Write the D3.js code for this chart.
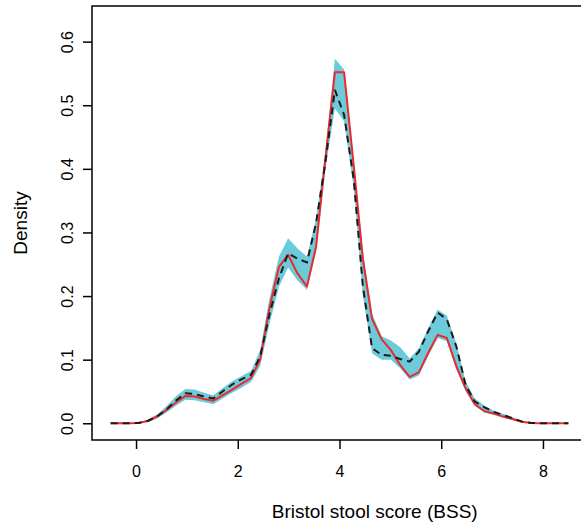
<!DOCTYPE html>
<html>
<head>
<meta charset="utf-8">
<script src="https://cdn.jsdelivr.net/npm/d3@7"></script>
<style>
  body { margin: 0; background: #fff; }
  svg { display: block; font-family: "Liberation Sans", Arial, sans-serif; }
</style>
</head>
<body>
<div id="chart"></div>
<script>
// BSS grid (50 points, -0.5 .. 8.5)
var bss = [-0.5, -0.32, -0.13, 0.05, 0.24, 0.42, 0.6, 0.79, 0.97, 1.15,
  1.34, 1.52, 1.7, 1.89, 2.07, 2.26, 2.44, 2.62, 2.81, 2.99,
  3.17, 3.36, 3.54, 3.72, 3.91, 4.09, 4.28, 4.46, 4.64, 4.83,
  5.01, 5.19, 5.38, 5.56, 5.74, 5.93, 6.11, 6.3, 6.48, 6.66,
  6.85, 7.03, 7.21, 7.4, 7.58, 7.77, 7.95, 8.13, 8.32, 8.5];

// red line
var redDensity = [0, 0, 0, 0.0005, 0.004, 0.011, 0.021, 0.033, 0.043, 0.042,
  0.038, 0.0355, 0.044, 0.053, 0.062, 0.071, 0.1, 0.18, 0.246, 0.265,
  0.236, 0.215, 0.278, 0.414, 0.552, 0.552, 0.405, 0.258, 0.164, 0.132,
  0.115, 0.092, 0.073, 0.08, 0.11, 0.139, 0.134, 0.089, 0.055, 0.03,
  0.019, 0.0155, 0.0105, 0.0068, 0.0025, 0.0005, 0, 0, 0, 0];

// dashed line
var dashDensity = [0, 0, 0, 0.0005, 0.004, 0.011, 0.022, 0.036, 0.047, 0.046,
  0.042, 0.039, 0.05, 0.061, 0.069, 0.076, 0.105, 0.17, 0.228, 0.267,
  0.259, 0.253, 0.315, 0.409, 0.524, 0.485, 0.383, 0.215, 0.118, 0.1075,
  0.106, 0.101, 0.097, 0.1126, 0.144, 0.174, 0.1635, 0.12, 0.06, 0.034,
  0.025, 0.018, 0.013, 0.008, 0.003, 0.0005, 0, 0, 0, 0];

// ribbon (lower / upper)
var bandLow = [0, 0, 0, 0, 0.002, 0.008, 0.017, 0.028, 0.037, 0.036,
  0.033, 0.03, 0.039, 0.048, 0.056, 0.065, 0.09, 0.155, 0.215, 0.245,
  0.225, 0.21, 0.27, 0.398, 0.495, 0.475, 0.37, 0.2, 0.11, 0.1,
  0.1, 0.087, 0.069, 0.075, 0.105, 0.134, 0.129, 0.084, 0.05, 0.027,
  0.017, 0.013, 0.009, 0.005, 0.001, 0, 0, 0, 0, 0];
var bandHigh = [0, 0, 0, 0.001, 0.006, 0.014, 0.027, 0.043, 0.054, 0.053,
  0.048, 0.044, 0.055, 0.066, 0.074, 0.082, 0.115, 0.195, 0.262, 0.291,
  0.275, 0.262, 0.322, 0.425, 0.573, 0.556, 0.412, 0.27, 0.172, 0.137,
  0.13, 0.12, 0.102, 0.118, 0.149, 0.179, 0.169, 0.125, 0.066, 0.039,
  0.028, 0.02, 0.015, 0.01, 0.004, 0.001, 0, 0, 0, 0];

var xTicks = [0, 2, 4, 6, 8];
var yTicks = [0, 0.1, 0.2, 0.3, 0.4, 0.5, 0.6];

var width = 581, height = 527;
var plotLeft = 92, plotTop = 6, plotBottom = 440, plotRight = 587;

var svg = d3.select("#chart").append("svg")
  .attr("width", width)
  .attr("height", height);

var x = d3.scaleLinear().domain([-0.866, 8.866]).range([plotLeft, plotRight]);
var y = d3.scaleLinear().domain([-0.0263, 0.656]).range([plotBottom, plotTop]);

var rows = bss.map(function(v, i) {
  return { x: v, red: redDensity[i], dash: dashDensity[i], lo: bandLow[i], hi: bandHigh[i] };
});

// ribbon
svg.append("path")
  .datum(rows)
  .attr("fill", "#6ccbdb")
  .attr("d", d3.area()
    .x(function(d) { return x(d.x); })
    .y0(function(d) { return y(d.lo); })
    .y1(function(d) { return y(d.hi); }));

svg.append("path")
  .datum(rows)
  .attr("fill", "none")
  .attr("stroke", "#ec2a2c")
  .attr("stroke-width", 2)
  .attr("stroke-linejoin", "round")
  .attr("d", d3.line()
    .x(function(d) { return x(d.x); })
    .y(function(d) { return y(d.red); }));

svg.append("path")
  .datum(rows)
  .attr("fill", "none")
  .attr("stroke", "#231815")
  .attr("stroke-width", 2)
  .attr("stroke-dasharray", "7,5")
  .attr("d", d3.line()
    .x(function(d) { return x(d.x); })
    .y(function(d) { return y(d.dash); }));

// box (right side falls outside the window)
svg.append("rect")
  .attr("x", plotLeft)
  .attr("y", plotTop)
  .attr("width", plotRight - plotLeft)
  .attr("height", plotBottom - plotTop)
  .attr("fill", "none")
  .attr("stroke", "#000")
  .attr("stroke-width", 1.5);

// axes
var xAxis = svg.append("g")
  .attr("transform", "translate(0," + plotBottom + ")")
  .call(d3.axisBottom(x).tickValues(xTicks).tickFormat(d3.format("d")).tickSize(9).tickPadding(17));
var yAxis = svg.append("g")
  .attr("transform", "translate(" + plotLeft + ",0)")
  .call(d3.axisLeft(y).tickValues(yTicks).tickFormat(d3.format(".1f")).tickSize(9));

[xAxis, yAxis].forEach(function(g) {
  g.attr("font-size", 16).attr("font-family", "'Liberation Sans', Arial, sans-serif");
  g.select(".domain").remove();
  g.selectAll(".tick line").attr("stroke", "#000").attr("stroke-width", 1.5);
  g.selectAll(".tick text").attr("fill", "#000");
});

yAxis.selectAll(".tick text")
  .attr("x", null).attr("dy", null)
  .attr("text-anchor", "middle")
  .attr("transform", "translate(-19,0) rotate(-90)");

svg.append("text")
  .attr("x", 374.7)
  .attr("y", 518)
  .attr("text-anchor", "middle")
  .style("font-size", "19px")
  .text("Bristol stool score (BSS)");

svg.append("text")
  .attr("transform", "translate(27," + (plotTop + plotBottom) / 2 + ") rotate(-90)")
  .attr("text-anchor", "middle")
  .style("font-size", "19px")
  .text("Density");
</script>
</body>
</html>
